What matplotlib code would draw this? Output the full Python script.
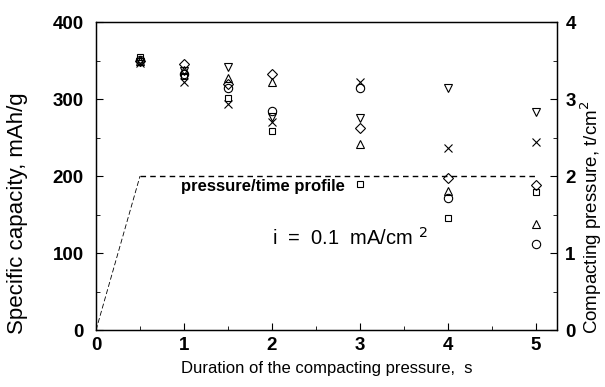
import matplotlib
matplotlib.use("Agg")
import matplotlib.pyplot as plt
import numpy as np

plt.rcParams['font.family'] = ['Liberation Sans', 'DejaVu Sans']

durations = [0.5, 1, 1.5, 2, 3, 4, 5]
cap_square = [354, 330, 302, 259, 190, 145, 179]
cap_circle = [351, 333, 314, 285, 314, 171, 112]
cap_tri_up = [350, 338, 328, 322, 242, 181, 138]
cap_tri_down = [348, 336, 341, 277, 276, 314, 283]
cap_cross = [347, 322, 294, 270, 322, 236, 244]
cap_diamond = [350, 345, 320, 333, 263, 197, 188]

profile_t = [0, 0.5, 5]
profile_p = [0, 2, 2]

fig = plt.figure(figsize=(6.05, 3.87), dpi=100)
ax = fig.add_axes([0.1587, 0.147, 0.762, 0.796])

mk = dict(linestyle='none', color='black', mfc='none', mew=0.8)
ax.plot(durations, cap_square, marker='s', ms=5, **mk)
ax.plot(durations, cap_circle, marker='o', ms=6, **mk)
ax.plot(durations, cap_tri_up, marker='^', ms=5.5, **mk)
ax.plot(durations, cap_tri_down, marker='v', ms=5.5, **mk)
ax.plot(durations, cap_cross, marker='x', ms=5.5, **mk)
ax.plot(durations, cap_diamond, marker='D', ms=5, **mk)

ax.set_xlim(0, 5.24)
ax.set_ylim(0, 400)
ax.set_xticks([0, 1, 2, 3, 4, 5])
ax.set_xticks(np.arange(0, 5.01, 0.5), minor=True)
ax.set_yticks([0, 100, 200, 300, 400])
ax.set_yticks(np.arange(0, 401, 50), minor=True)
ax.tick_params(direction='in', which='major', length=5, width=0.8, labelsize=13.5)
ax.tick_params(direction='in', which='minor', length=3, width=0.6)
ax.tick_params(axis='y', pad=9)
ax.tick_params(axis='x', pad=5)
for lab in ax.get_xticklabels() + ax.get_yticklabels():
    lab.set_fontweight('bold')

ax.set_xlabel('Duration of the compacting pressure,  s', fontsize=12, labelpad=5)
ax.set_ylabel('Specific capacity, mAh/g', fontsize=16)
ax.yaxis.set_label_coords(-0.1475, 0.38)

ax2 = ax.twinx()
ax2.set_ylim(0, 4)
ax2.plot(profile_t[:2], profile_p[:2], color='black', linestyle=(0, (6, 3)), lw=0.6)
ax2.plot(profile_t[1:], profile_p[1:], color='black', linestyle=(0, (4, 3)), lw=1.0)
ax2.set_yticks([0, 1, 2, 3, 4])
ax2.set_yticks(np.arange(0, 4.01, 0.5), minor=True)
ax2.tick_params(direction='in', which='major', length=5, width=0.8, labelsize=13.5, pad=6)
ax2.tick_params(direction='in', which='minor', length=3, width=0.6)
for lab in ax2.get_yticklabels():
    lab.set_fontweight('bold')
ax2.set_ylabel('Compacting pressure, t/cm$^2$', fontsize=13.5)
ax2.yaxis.set_label_coords(1.047, 0.367)

for a in (ax, ax2):
    for s in a.spines.values():
        s.set_linewidth(0.9)

ax.text(0.97, 187, 'pressure/time profile', fontsize=12, fontweight='bold', va='center', ha='left')
ax.text(2.0, 120, 'i  =  0.1  mA/cm $^{2}$', fontsize=14.5, va='center', ha='left')

fig.savefig('out.png', dpi=100)
